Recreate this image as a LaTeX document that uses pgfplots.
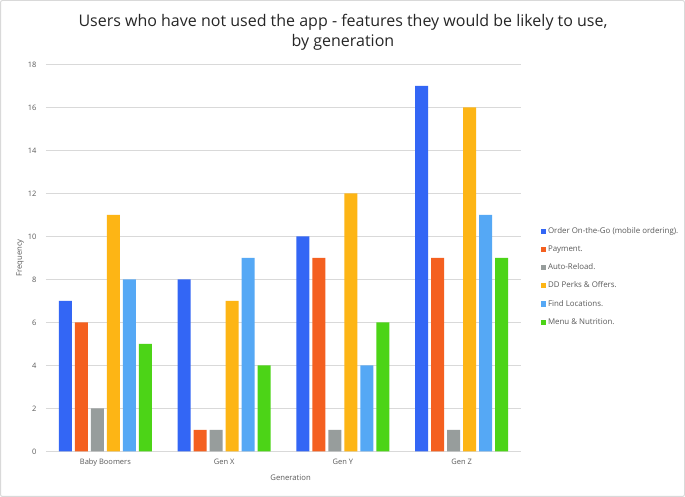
\documentclass[border=0pt]{standalone}
\usepackage{pgfplots}
\pgfplotsset{compat=1.18}
\usepackage{fontspec}
\setmainfont{Open Sans}
\definecolor{cBlue}{HTML}{3366F5}
\definecolor{cOrange}{HTML}{F46020}
\definecolor{cGray}{HTML}{979D9C}
\definecolor{cYellow}{HTML}{FDB515}
\definecolor{cLBlue}{HTML}{55A8F5}
\definecolor{cGreen}{HTML}{4CD417}
\definecolor{txt}{HTML}{595959}
\definecolor{gridc}{HTML}{D9D9D9}
\pgfplotsset{myleg/.style={legend image code/.code={\fill[##1] (0pt,-2.6pt) rectangle (5.2pt,2.6pt);}}}
\begin{document}
\begin{tikzpicture}[x=1pt,y=1pt]
\useasboundingbox (0,0) rectangle (685,497);
\draw[color=gridc,line width=1pt,rounded corners=2pt] (0.5,0.5) rectangle (684.5,496.5);
\node[align=center,font=\fontsize{16}{20}\selectfont,text=black!85] at (343,465) {Users who have not used the app - features they would be likely to use,\\by generation};
\begin{axis}[
  at={(46pt,45.5pt)}, anchor=south west,
  scale only axis, width=475pt, height=387pt,
  ybar=3pt, bar width=13pt,
  xmin=-0.5, xmax=3.5, ymin=0, ymax=18,
  xtick={0,1,2,3}, xticklabels={Baby Boomers,Gen X,Gen Y,Gen Z},
  ytick={0,2,...,18},
  ymajorgrids, grid style={gridc, line width=0.8pt},
  axis line style={draw=none},
  major tick length=0pt,
  tick label style={font=\fontsize{7.5}{9}\selectfont, text=txt},
  /pgf/number format/assume math mode=true,
  xticklabel style={yshift=-4pt},
  yticklabel style={xshift=-6pt},
  xlabel={Generation}, ylabel={Frequency},
  label style={font=\fontsize{7.7}{9}\selectfont, text=txt},
  xlabel style={at={(axis description cs:0.515,0)}, anchor=center, yshift=-26pt},
  ylabel style={at={(axis description cs:0,0.5)}, anchor=center, yshift=26pt},
  legend style={draw=none, fill=none, at={(1.035,0.59)}, anchor=north west,
    font=\fontsize{7.9}{9.5}\selectfont, text=txt, row sep=6.8pt,
    legend cell align=left},
  axis background/.style={fill=white},
  clip=false,
]
\addplot[fill=cBlue, draw=none, myleg] coordinates {(0,7) (1,8) (2,10) (3,17)};
\addplot[fill=cOrange, draw=none, myleg] coordinates {(0,6) (1,1) (2,9) (3,9)};
\addplot[fill=cGray, draw=none, myleg] coordinates {(0,2) (1,1) (2,1) (3,1)};
\addplot[fill=cYellow, draw=none, myleg] coordinates {(0,11) (1,7) (2,12) (3,16)};
\addplot[fill=cLBlue, draw=none, myleg] coordinates {(0,8) (1,9) (2,4) (3,11)};
\addplot[fill=cGreen, draw=none, myleg] coordinates {(0,5) (1,4) (2,6) (3,9)};
\legend{Order On-the-Go (mobile ordering).,Payment.,Auto-Reload.,DD Perks \& Offers.,Find Locations.,Menu \& Nutrition.}
\end{axis}
\end{tikzpicture}
\end{document}
